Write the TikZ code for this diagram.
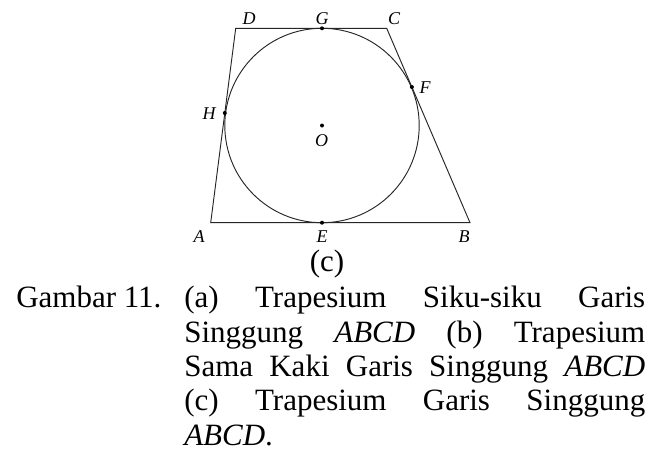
\documentclass[tikz,border=0pt]{standalone}
\usepackage{fontspec}
\setmainfont{Liberation Serif}
\usetikzlibrary{calc}
\begin{document}
\begin{tikzpicture}[x=0.75pt,y=-0.75pt,
  edge/.style={line width=0.7pt, black!85},
  pt/.style={circle, fill=black, inner sep=0pt, minimum size=3pt},
  lbl/.style={font=\fontsize{13.5pt}{14pt}\selectfont\itshape, inner sep=0pt},
  captxt/.style={font=\fontsize{23.25pt}{25pt}\selectfont, inner sep=0pt, anchor=base west}]
\useasboundingbox (0,0) rectangle (663,461);
% corners
\coordinate (A) at (210.7,222.7);
\coordinate (B) at (470,222.7);
\coordinate (C) at (386.7,28.3);
\coordinate (D) at (235.7,28.3);
\coordinate (O) at (322,125.5);
\coordinate (E) at (322,222.7);
\coordinate (G) at (322,28.3);
\coordinate (H) at ($(A)!(O)!(D)$);
\coordinate (F) at ($(B)!(O)!(C)$);
\draw[edge] (A) -- (B) -- (C) -- (D) -- cycle;
\draw[edge] (O) circle[radius=97.2];
\foreach \p in {O,E,G,H,F} \node[pt] at (\p) {};
% labels
\node[lbl] (lD) at (249,18.7) {D};
\node[lbl] (lG) at (322,18.7) {G};
\node[lbl] (lC) at (394,18.7) {C};
\node[lbl] (lF) at (425,87.5) {F};
\node[lbl] (lH) at (209,114) {H};
\node[lbl] (lO) at (321.7,140.8) {O};
\node[lbl] (lA) at (199,237) {A};
\node[lbl] (lE) at (322,237) {E};
\node[lbl] (lB) at (464,237) {B};
% caption
\node[captxt, anchor=base] (sub) at (327,271) {(c)};
\node[captxt] (g) at (16,307.7) {Gambar 11.};
\node[captxt] (l1) at (184,307.7) {\hbox to 345.75pt{(a)\hfill Trapesium\hfill Siku-siku\hfill Garis}};
\node[captxt] (l2) at (184,342) {\hbox to 345.75pt{Singgung\hfill \textit{ABCD}\hfill (b)\hfill Trapesium}};
\node[captxt] (l3) at (184,376.3) {\hbox to 345.75pt{Sama\hfill Kaki\hfill Garis\hfill Singgung\hfill \textit{ABCD}}};
\node[captxt] (l4) at (184,410.6) {\hbox to 345.75pt{(c)\hfill Trapesium\hfill Garis\hfill Singgung}};
\node[captxt] (l5) at (184,445) {\textit{ABCD}.};
\end{tikzpicture}
\end{document}
